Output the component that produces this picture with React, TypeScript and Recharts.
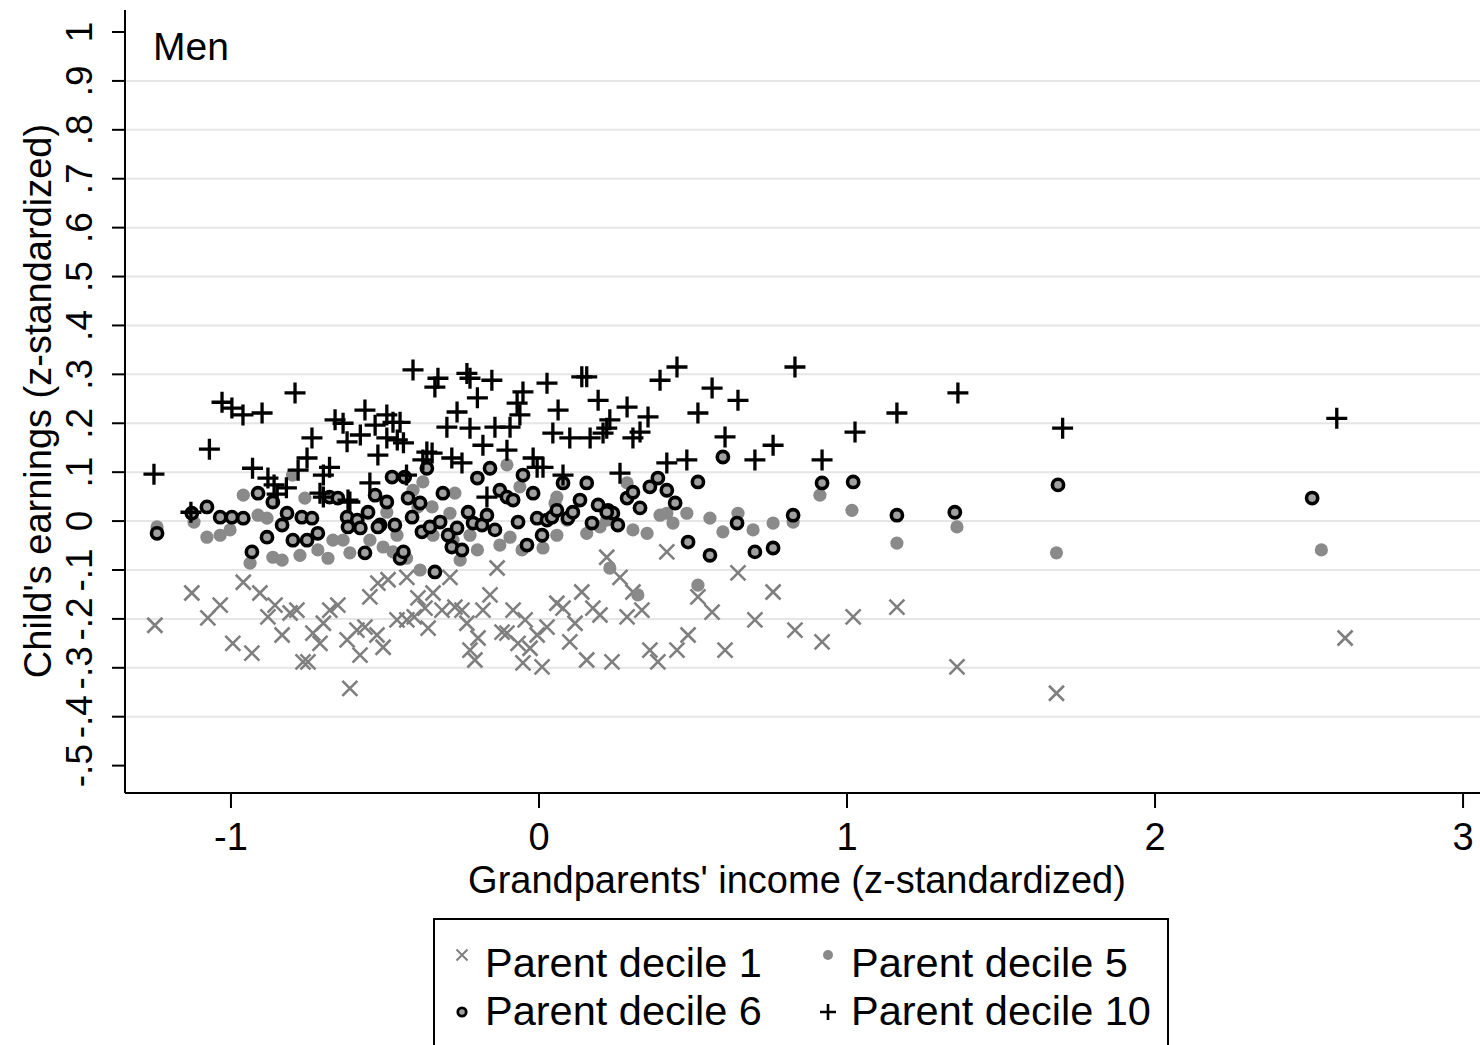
import React from "react";
import { ScatterChart, Scatter, XAxis, YAxis, CartesianGrid } from "recharts";

// Child's earnings vs grandparents' income, by parent decile (men)
const decile1 = [
  [-1.247, -0.213], [-1.127, -0.147], [-1.075, -0.198], [-1.035, -0.172], [-0.96, -0.125],
  [-0.906, -0.147], [-0.994, -0.25], [-0.932, -0.27], [-0.88, -0.196], [-0.857, -0.172],
  [-0.834, -0.233], [-0.808, -0.188], [-0.786, -0.182], [-0.766, -0.288], [-0.75, -0.288],
  [-0.734, -0.229], [-0.711, -0.25], [-0.679, -0.182], [-0.653, -0.172], [-0.7, -0.209],
  [-0.614, -0.342], [-0.623, -0.243], [-0.591, -0.223], [-0.565, -0.217], [-0.581, -0.274],
  [-0.526, -0.233], [-0.506, -0.258], [-0.549, -0.155], [-0.523, -0.127], [-0.49, -0.12],
  [-0.461, -0.202], [-0.429, -0.115], [-0.393, -0.157], [-0.37, -0.178], [-0.344, -0.147],
  [-0.315, -0.182], [-0.289, -0.115], [-0.273, -0.176], [-0.25, -0.182], [-0.429, -0.202],
  [-0.405, -0.196], [-0.36, -0.219], [-0.234, -0.209], [-0.198, -0.239], [-0.224, -0.264],
  [-0.208, -0.284], [-0.182, -0.182], [-0.159, -0.151], [-0.136, -0.096], [-0.12, -0.227],
  [-0.104, -0.229], [-0.084, -0.182], [-0.045, -0.202], [-0.068, -0.25], [-0.029, -0.26],
  [-0.052, -0.29], [0.01, -0.298], [-0.006, -0.233], [0.026, -0.217], [0.058, -0.168],
  [0.078, -0.178], [0.1, -0.247], [0.117, -0.209], [0.139, -0.145], [0.155, -0.284],
  [0.175, -0.178], [0.198, -0.192], [0.237, -0.288], [0.22, -0.074], [0.263, -0.115],
  [0.305, -0.145], [0.286, -0.196], [0.334, -0.182], [0.36, -0.264], [0.386, -0.288],
  [0.415, -0.063], [0.448, -0.264], [0.484, -0.233], [0.516, -0.155], [0.562, -0.186],
  [0.604, -0.264], [0.646, -0.106], [0.701, -0.202], [0.76, -0.145], [0.831, -0.223],
  [0.919, -0.247], [1.02, -0.196], [1.162, -0.176], [1.357, -0.298], [1.68, -0.352],
  [2.617, -0.239],
].map(([x, y]) => ({ x, y }));

const decile5 = [
  [-0.96, 0.053], [-0.8, 0.094], [-0.76, 0.047], [-1.24, -0.012], [-1.12, -0.002],
  [-1.078, -0.033], [-1.035, -0.029], [-1.003, -0.018], [-0.912, 0.012], [-0.883, 0.006],
  [-0.938, -0.086], [-0.864, -0.074], [-0.834, -0.08], [-0.776, -0.07], [-0.718, -0.059],
  [-0.685, -0.076], [-0.669, -0.039], [-0.636, -0.039], [-0.614, -0.065], [-0.549, -0.039],
  [-0.506, -0.053], [-0.474, -0.063], [-0.494, 0.018], [-0.461, -0.029], [-0.43, -0.076],
  [-0.377, 0.08], [-0.273, 0.057], [-0.347, 0.029], [-0.289, 0.016], [-0.393, 0.029],
  [-0.344, -0.029], [-0.279, -0.039], [-0.224, -0.029], [-0.2, -0.059], [-0.256, -0.08],
  [-0.386, -0.1], [-0.094, -0.033], [-0.127, -0.049], [-0.055, -0.059], [0.013, -0.055],
  [0.058, -0.029], [-0.062, 0.07], [0.052, 0.037], [0.091, 0.002], [0.155, -0.025],
  [0.198, -0.012], [0.22, 0.002], [0.305, -0.018], [0.351, -0.025], [0.393, 0.012],
  [0.415, 0.016], [0.23, -0.096], [0.321, -0.151], [0.435, -0.004], [0.48, 0.016],
  [0.555, 0.006], [0.597, -0.022], [0.646, 0.016], [0.695, -0.018], [0.76, -0.004],
  [0.825, -0.002], [0.912, 0.053], [1.016, 0.022], [1.162, -0.045], [1.357, -0.012],
  [0.516, -0.131], [1.68, -0.065], [2.54, -0.059], [-0.104, 0.115], [-0.409, 0.063],
  [0.058, 0.049], [0.286, 0.078],
].map(([x, y]) => ({ x, y }));

const decile6 = [
  [-1.24, -0.025], [-1.078, 0.029], [-1.127, 0.016], [-1.035, 0.008], [-0.997, 0.008],
  [-0.96, 0.006], [-0.912, 0.057], [-0.864, 0.039], [-0.818, 0.016], [-0.77, 0.008],
  [-0.737, 0.006], [-0.883, -0.033], [-0.834, -0.008], [-0.68, 0.049], [-0.653, 0.047],
  [-0.623, 0.008], [-0.59, 0.002], [-0.555, 0.018], [-0.532, 0.053], [-0.494, 0.039],
  [-0.468, -0.008], [-0.516, -0.008], [-0.477, 0.09], [-0.436, 0.09], [-0.932, -0.063],
  [-0.799, -0.039], [-0.753, -0.039], [-0.718, -0.025], [-0.62, -0.012], [-0.58, -0.014],
  [-0.523, -0.012], [-0.565, -0.065], [-0.451, -0.076], [-0.44, -0.063], [-0.364, 0.108],
  [-0.2, 0.088], [-0.159, 0.108], [-0.052, 0.094], [-0.019, 0.057], [0.078, 0.078],
  [0.155, 0.078], [-0.312, 0.057], [-0.127, 0.063], [-0.104, 0.049], [-0.084, 0.043],
  [-0.425, 0.047], [-0.386, 0.037], [0.133, 0.043], [0.192, 0.033], [0.224, 0.022],
  [0.24, 0.016], [0.286, 0.047], [0.305, 0.059], [0.36, 0.07], [0.386, 0.088],
  [0.415, 0.063], [0.328, 0.027], [0.442, 0.037], [-0.412, 0.008], [-0.38, -0.022],
  [-0.354, -0.012], [-0.321, -0.002], [-0.295, -0.029], [-0.283, -0.053], [-0.25, -0.059],
  [-0.266, -0.014], [-0.23, 0.018], [-0.214, -0.004], [-0.185, -0.008], [-0.169, 0.012],
  [-0.143, -0.018], [-0.068, -0.002], [-0.039, -0.049], [-0.006, 0.006], [0.01, -0.029],
  [0.026, 0.002], [0.042, 0.008], [0.058, 0.022], [0.094, 0.006], [0.11, 0.018],
  [0.172, -0.004], [0.22, 0.018], [0.256, -0.008], [-0.338, -0.104], [0.597, 0.131],
  [0.516, 0.08], [0.484, -0.043], [0.555, -0.07], [0.643, -0.004], [0.701, -0.063],
  [0.76, -0.055], [0.825, 0.012], [0.919, 0.078], [1.02, 0.08], [1.162, 0.012],
  [1.35, 0.018], [1.685, 0.074], [2.51, 0.047],
].map(([x, y]) => ({ x, y }));

const decile10 = [
  [-1.25, 0.096], [-1.13, 0.018], [-1.07, 0.147], [-1.029, 0.243], [-0.997, 0.231],
  [-0.961, 0.217], [-0.899, 0.221], [-0.792, 0.262], [-0.93, 0.108], [-0.88, 0.088],
  [-0.86, 0.074], [-0.82, 0.068], [-0.85, 0.055], [-0.737, 0.17], [-0.753, 0.129],
  [-0.782, 0.104], [-0.7, 0.094], [-0.68, 0.11], [-0.711, 0.057], [-0.614, 0.039],
  [-0.662, 0.207], [-0.636, 0.2], [-0.623, 0.162], [-0.58, 0.176], [-0.565, 0.227],
  [-0.532, 0.196], [-0.494, 0.217], [-0.474, 0.202], [-0.494, 0.17], [-0.46, 0.166],
  [-0.523, 0.135], [-0.549, 0.078], [-0.409, 0.309], [-0.328, 0.292], [-0.338, 0.274],
  [-0.234, 0.302], [-0.224, 0.292], [-0.153, 0.288], [0.026, 0.282], [0.139, 0.295],
  [0.155, 0.295], [0.393, 0.288], [0.448, 0.315], [-0.2, 0.252], [-0.052, 0.264],
  [-0.071, 0.241], [-0.062, 0.217], [-0.094, 0.192], [-0.266, 0.223], [-0.299, 0.192],
  [-0.224, 0.19], [-0.143, 0.192], [-0.182, 0.155], [-0.104, 0.145], [0.192, 0.247],
  [0.062, 0.227], [0.286, 0.233], [0.354, 0.213], [0.23, 0.207], [0.045, 0.18],
  [0.1, 0.17], [0.166, 0.17], [0.208, 0.18], [0.22, 0.19], [0.305, 0.17],
  [0.328, 0.182], [-0.451, 0.202], [-0.44, 0.16], [-0.364, 0.141], [-0.347, 0.139],
  [-0.283, 0.129], [-0.25, 0.119], [-0.377, 0.125], [-0.43, 0.094], [-0.019, 0.129],
  [-0.006, 0.11], [0.013, 0.11], [0.078, 0.094], [0.263, 0.098], [0.415, 0.119],
  [-0.169, 0.049], [0.562, 0.272], [0.646, 0.247], [0.516, 0.221], [0.604, 0.172],
  [0.76, 0.155], [0.701, 0.125], [0.48, 0.125], [0.831, 0.315], [0.919, 0.125],
  [1.026, 0.182], [1.162, 0.221], [1.36, 0.262], [1.7, 0.19], [2.59, 0.21],
  [-0.7, 0.049], [-0.62, 0.043],
].map(([x, y]) => ({ x, y }));

const xTicks = [-1, 0, 1, 2, 3];
const yTicks = [-0.5, -0.4, -0.3, -0.2, -0.1, 0, 0.1, 0.2, 0.3, 0.4, 0.5, 0.6, 0.7, 0.8, 0.9, 1];
const gridVals = [-0.4, -0.3, -0.2, -0.1, 0, 0.1, 0.2, 0.3, 0.4, 0.5, 0.6, 0.7, 0.8, 0.9];
const legendItems = [
  { label: "Parent decile 1", sym: "x" },
  { label: "Parent decile 5", sym: "dot" },
  { label: "Parent decile 6", sym: "ring" },
  { label: "Parent decile 10", sym: "plus" },
];

const FONT = '"Liberation Sans", Arial, Helvetica, sans-serif';
const GREY = "#7f7f7f";

// stata-ish "0.5" -> ".5"
const fmtY = (v: number) => {
  const r = Math.round(v * 10) / 10;
  if (r === 0) return "0";
  if (r === 1) return "1";
  return (r < 0 ? "-" : "") + String(Math.abs(r)).replace(/^0/, "");
};

function XMark({ cx, cy }: any) {
  const s = 7.5;
  return (
    <path
      d={`M${cx - s},${cy - s}L${cx + s},${cy + s}M${cx - s},${cy + s}L${cx + s},${cy - s}`}
      stroke={GREY}
      strokeWidth={2.6}
    />
  );
}

function Dot({ cx, cy }: any) {
  return <circle cx={cx} cy={cy} r={6.6} fill="#8a8a8a" />;
}

function Ring({ cx, cy }: any) {
  return <circle cx={cx} cy={cy} r={5.6} fill="#a0a0a0" stroke="#000" strokeWidth={3.6} />;
}

function Plus({ cx, cy }: any) {
  const s = 10.5;
  return (
    <path
      d={`M${cx - s},${cy}L${cx + s},${cy}M${cx},${cy - s}L${cx},${cy + s}`}
      stroke="#000"
      strokeWidth={3.3}
    />
  );
}

function YTick({ y, payload }: any) {
  const bx = 92;
  return (
    <text
      x={bx}
      y={y}
      transform={`rotate(-90, ${bx}, ${y})`}
      textAnchor="middle"
      fontFamily={FONT}
      fontSize={37}
      fill="#000"
    >
      {fmtY(payload.value)}
    </text>
  );
}

function XTick({ x, payload }: any) {
  return (
    <text x={x} y={850} textAnchor="middle" fontFamily={FONT} fontSize={38} fill="#000">
      {payload.value}
    </text>
  );
}

function LegendSymbol({ sym, x, y }: { sym: string; x: number; y: number }) {
  if (sym === "x") {
    const s = 5.5;
    return (
      <path
        d={`M${x - s},${y - s}L${x + s},${y + s}M${x - s},${y + s}L${x + s},${y - s}`}
        stroke={GREY}
        strokeWidth={2}
      />
    );
  }
  if (sym === "dot") return <circle cx={x} cy={y} r={5} fill="#8a8a8a" />;
  if (sym === "ring")
    return <circle cx={x} cy={y} r={4.2} fill="#a0a0a0" stroke="#000" strokeWidth={2.8} />;
  const s = 8;
  return (
    <path d={`M${x - s},${y}L${x + s},${y}M${x},${y - s}L${x},${y + s}`} stroke="#000" strokeWidth={2.6} />
  );
}

export default function App() {
  const colX = [462, 828];
  const rowY = [962, 1010];
  const symY = [955, 1012];
  return (
    <div style={{ position: "absolute", left: 0, top: 0, width: 1480, height: 1045, background: "#fff", overflow: "hidden" }}>
      <ScatterChart width={1480} height={1045} margin={{ top: 10, right: 0, bottom: 192, left: 15 }}>
        <CartesianGrid
          vertical={false}
          horizontalValues={gridVals}
          stroke="#e6e6e6"
          strokeWidth={2}
        />
        <XAxis
          type="number"
          dataKey="x"
          domain={[-1.344, 3.055]}
          ticks={xTicks}
          allowDataOverflow
          height={60}
          tickSize={15}
          axisLine={{ stroke: "#000", strokeWidth: 2 }}
          tickLine={{ stroke: "#000", strokeWidth: 2 }}
          tick={<XTick />}
          interval={0}
        />
        <YAxis
          type="number"
          dataKey="y"
          domain={[-0.556, 1.045]}
          ticks={yTicks}
          allowDataOverflow
          width={110}
          tickSize={13}
          axisLine={{ stroke: "#000", strokeWidth: 2 }}
          tickLine={{ stroke: "#000", strokeWidth: 2 }}
          tick={<YTick />}
          interval={0}
        />
        <Scatter name="Parent decile 1" data={decile1} shape={<XMark />} isAnimationActive={false} />
        <Scatter name="Parent decile 5" data={decile5} shape={<Dot />} isAnimationActive={false} />
        <Scatter name="Parent decile 6" data={decile6} shape={<Ring />} isAnimationActive={false} />
        <Scatter name="Parent decile 10" data={decile10} shape={<Plus />} isAnimationActive={false} />
      </ScatterChart>

      <svg
        width={1480}
        height={1045}
        style={{ position: "absolute", left: 0, top: 0, pointerEvents: "none" }}
        fontFamily={FONT}
      >
        <text x={153} y={60} fontSize={39} fill="#000">Men</text>
        <text x={51} y={401} transform="rotate(-90, 51, 401)" textAnchor="middle" fontSize={38} fill="#000">
          Child's earnings (z-standardized)
        </text>
        <text x={797} y={893} textAnchor="middle" fontSize={38} fill="#000">
          Grandparents' income (z-standardized)
        </text>

        <rect x={434} y={919} width={734} height={140} fill="#fff" stroke="#000" strokeWidth={2} />
        {legendItems.map((it, i) => {
          const cx = colX[i % 2];
          const row = Math.floor(i / 2);
          return (
            <g key={it.label}>
              <LegendSymbol sym={it.sym} x={cx} y={symY[row]} />
              <text x={cx + 23} y={rowY[row] + 15} fontSize={41.5} fill="#000">{it.label}</text>
            </g>
          );
        })}
      </svg>
    </div>
  );
}
